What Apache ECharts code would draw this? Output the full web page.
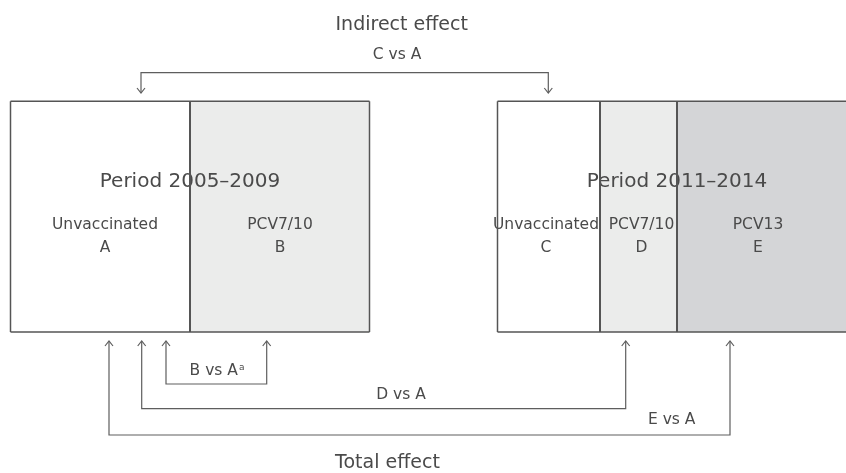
<!DOCTYPE html>
<html>
<head>
<meta charset="utf-8">
<script src="https://cdn.jsdelivr.net/npm/echarts@6/dist/echarts.min.js"></script>
<style>html,body{margin:0;padding:0;background:#fff}#c{width:846px;height:473px}</style>
</head>
<body>
<div id="c"></div>
<script>
// ---- data (diagram layout values, in a 846 x 473 value space) ----
const periodTitles = ['Period 2005–2009', 'Period 2011–2014'];
const periodCenterX = [190, 677];
const groupLabels = ['Unvaccinated', 'PCV7/10', 'Unvaccinated', 'PCV7/10', 'PCV13'];
const groupLetters = ['A', 'B', 'C', 'D', 'E'];
const groupLabelX = [105, 280, 546, 641.5, 758];
const cellStart = [10.5, 190, 497.5, 600, 677];
const cellEnd = [190, 369.5, 600, 677, 870];
const cellShade = [0, 1, 0, 1, 2];
const boxTop = 101.3;
const boxBottom = 332;
const comparisonNames = ['C vs A', 'B vs A', 'D vs A', 'E vs A'];
const comparisonNotes = ['', 'a', '', ''];
const comparisonFrom = [141, 166, 141.7, 109];
const comparisonTo = [548.3, 266.7, 625.7, 730];
const comparisonLevel = [72.7, 384, 408.7, 435];
const comparisonTip = [93, 341, 341, 341];
const comparisonLabelX = [397, 217, 401, 671.7];
const comparisonLabelY = [55, 370.7, 395, 420];
const effectTitles = ['Indirect effect', 'Total effect'];
const effectTitleX = [401.7, 387.5];
const effectTitleY = [25, 463];

const FONT = '"DejaVu Sans", "Noto Sans", sans-serif';
const TXT = '#4a4a4a';
const LINE = '#5e5e5e';
const shadeColors = ['#ffffff', '#ebeceb', '#d4d5d7'];

const chart = echarts.init(document.getElementById('c'), null, {renderer: 'canvas'});

const cellData = cellStart.map((s, i) => [s, cellEnd[i], cellShade[i]]);
const bracketData = comparisonFrom.map((f, i) => [f, comparisonTo[i], comparisonLevel[i], comparisonTip[i]]);

const textItems = [];
effectTitles.forEach((t, i) => textItems.push({t, x: effectTitleX[i], y: effectTitleY[i], size: 19}));
periodTitles.forEach((t, i) => textItems.push({t, x: periodCenterX[i], y: 182, size: 20}));
groupLabels.forEach((t, i) => {
  textItems.push({t, x: groupLabelX[i], y: 225, size: 15.5});
  textItems.push({t: groupLetters[i], x: groupLabelX[i], y: 247.5, size: 15.5});
});
comparisonNames.forEach((t, i) => {
  textItems.push({t, note: comparisonNotes[i], x: comparisonLabelX[i], y: comparisonLabelY[i], size: 15.5});
});

chart.setOption({
  animation: false,
  backgroundColor: '#ffffff',
  grid: {left: 0, right: 0, top: 0, bottom: 0},
  xAxis: {type: 'value', min: 0, max: 846, show: false},
  yAxis: {type: 'value', min: 0, max: 473, inverse: true, show: false},
  series: [
    {
      type: 'custom', z: 1, silent: true, clip: false,
      data: cellData,
      renderItem: function (params, api) {
        const p0 = api.coord([api.value(0), boxTop]);
        const p1 = api.coord([api.value(1), boxBottom]);
        return {
          type: 'rect',
          shape: {x: p0[0], y: p0[1], width: p1[0] - p0[0], height: p1[1] - p0[1]},
          style: {fill: shadeColors[api.value(2)], stroke: null}
        };
      }
    },
    {
      type: 'custom', z: 2, silent: true, clip: false,
      data: textItems.map((d, i) => [d.x, d.y, i]),
      renderItem: function (params, api) {
        const d = textItems[api.value(2)];
        const p = api.coord([d.x, d.y]);
        if (d.note) {
          return {
            type: 'text',
            style: {
              text: '{b|' + d.t + '}{s|' + d.note + '}', x: p[0], y: p[1],
              align: 'center', verticalAlign: 'middle',
              rich: {
                b: {fontFamily: FONT, fontSize: d.size, fill: TXT, color: TXT, lineHeight: 18, verticalAlign: 'middle'},
                s: {fontFamily: FONT, fontSize: 9, fill: TXT, color: TXT, lineHeight: 9, verticalAlign: 'top', padding: [1, 0, 0, 1]}
              }
            }
          };
        }
        return {
          type: 'text',
          style: {
            text: d.t, x: p[0], y: p[1], fill: TXT,
            font: 'normal ' + d.size + 'px ' + FONT,
            align: 'center', verticalAlign: 'middle'
          }
        };
      }
    },
    {
      type: 'custom', z: 3, silent: true, clip: false,
      data: cellData,
      renderItem: function (params, api) {
        const p0 = api.coord([api.value(0), boxTop]);
        const p1 = api.coord([api.value(1), boxBottom]);
        const isFirst = params.dataIndex === 0 || params.dataIndex === 2;
        const children = [
          {type: 'line', shape: {x1: p0[0], y1: p0[1], x2: p1[0], y2: p0[1]}, style: {stroke: '#555', lineWidth: 1.5}},
          {type: 'line', shape: {x1: p0[0], y1: p1[1], x2: p1[0], y2: p1[1]}, style: {stroke: '#555', lineWidth: 1.5}},
          {type: 'line', shape: {x1: p0[0], y1: p0[1], x2: p0[0], y2: p1[1]}, style: {stroke: '#555', lineWidth: isFirst ? 1.5 : 2}}
        ];
        if (params.dataIndex === 1) {
          children.push({type: 'line', shape: {x1: p1[0], y1: p0[1], x2: p1[0], y2: p1[1]}, style: {stroke: '#555', lineWidth: 1.5}});
        }
        return {type: 'group', children};
      }
    },
    {
      type: 'custom', z: 4, silent: true, clip: false,
      data: bracketData,
      renderItem: function (params, api) {
        const a = api.coord([api.value(0), api.value(2)]);
        const b = api.coord([api.value(1), api.value(2)]);
        const tip = api.coord([0, api.value(3)])[1];
        const dir = tip < a[1] ? 1 : -1; // +1: arrow points up
        const style = {stroke: LINE, lineWidth: 1.2, fill: null};
        const head = (x) => ({
          type: 'polyline',
          shape: {points: [[x - 4, tip + dir * 5], [x, tip], [x + 4, tip + dir * 5]]},
          style
        });
        return {
          type: 'group',
          children: [
            {type: 'polyline', shape: {points: [[a[0], tip], a, b, [b[0], tip]]}, style},
            head(a[0]), head(b[0])
          ]
        };
      }
    }
  ]
});
</script>
</body>
</html>
